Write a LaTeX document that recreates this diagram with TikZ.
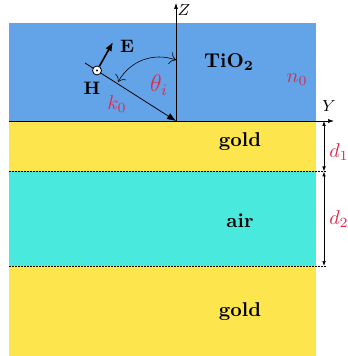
\documentclass[tikz,border=0pt]{standalone}
\usetikzlibrary{arrows.meta}
\definecolor{tioblue}{RGB}{99,163,232}
\definecolor{goldy}{RGB}{253,229,77}
\definecolor{aircyan}{RGB}{74,233,222}
\definecolor{labred}{RGB}{225,40,75}
\tikzset{
  redlab/.style={text=labred, inner sep=0pt},
  matlab/.style={font=\bfseries, inner sep=0pt},
  axisline/.style={line width=0.3pt, -{Latex[length=3pt,width=2pt]}},
  dimarrow/.style={line width=0.3pt, {Latex[length=2.5pt,width=1.8pt]}-{Latex[length=2.5pt,width=1.8pt]}},
  boundary/.style={densely dashed, line width=0.25pt, dash pattern=on 1pt off 0.5pt}
}
\begin{document}
\begin{tikzpicture}[x=0.5pt,y=-0.5pt]
\useasboundingbox (0,0) rectangle (347,356);
% layers
\fill[tioblue] (9,23) rectangle (316,121);
\fill[goldy] (9,121) rectangle (316,171.5);
\fill[aircyan] (9,171.5) rectangle (316,266);
\fill[goldy] (9,266) rectangle (316,356);
% coordinates
\coordinate (O) at (176,121);
\coordinate (Ztop) at (176,3);
\coordinate (Yleft) at (9,121);
\coordinate (Yend) at (334,121);
\coordinate (S) at (85,63);
\coordinate (Eend) at (113,42);
\coordinate (arcA) at (118,82);
\coordinate (arcB) at (176,60);
\coordinate (b1l) at (9,171.5);
\coordinate (b1r) at (327,171.5);
\coordinate (b2l) at (9,266);
\coordinate (b2r) at (327,266);
\coordinate (d0) at (324,121);
\coordinate (d1) at (324,171.5);
\coordinate (d2) at (324,266);
% boundaries
\draw[boundary] (b1l) -- (b1r);
\draw[boundary] (b2l) -- (b2r);
% axes
\draw[axisline] (O) -- (Ztop);
\draw[axisline] (Yleft) -- (Yend);
\node[inner sep=0pt, font=\footnotesize] (zl) at (184,10) {$Z$};
\node[inner sep=0pt, font=\footnotesize] (yl) at (329,106) {$Y$};
% incident ray
\draw[line width=0.4pt, -{Latex[length=4.5pt,width=3.5pt]}] (S) -- (O);
\node[circle, draw, fill=white, line width=0.4pt, minimum size=4.5pt, inner sep=0pt] (H) at (97,70.5) {};
\fill (H.center) circle (0.6pt);
\draw[line width=0.8pt, -{Latex[length=4.5pt,width=3.5pt]}] (H) -- (Eend);
\node[inner sep=0pt, font=\small\bfseries] (El) at (127,46) {E};
\node[inner sep=0pt, font=\small\bfseries] (Hl) at (92,88) {H};
\node[redlab] (kl) at (117,104) {$k_0$};
\draw[line width=0.3pt, {To[length=3pt]}-{To[length=3pt]}] (arcA) to[bend left=40] (arcB);
\node[redlab, font=\large] (thl) at (159,85) {$\theta_i$};
% material labels
\node[matlab] (tio) at (229,62) {TiO$_{\mathbf{2}}$};
\node[redlab] (n0) at (297,80) {$n_0$};
\node[matlab] (g1) at (240,142) {gold};
\node[matlab] (air) at (240,221) {air};
\node[matlab] (g2) at (240,312) {gold};
% dimensions
\draw[dimarrow] (d0) -- (d1);
\draw[dimarrow] (d1) -- (d2);
\node[redlab] (d1l) at (339,152) {$d_1$};
\node[redlab] (d2l) at (339,219) {$d_2$};
\end{tikzpicture}
\end{document}
